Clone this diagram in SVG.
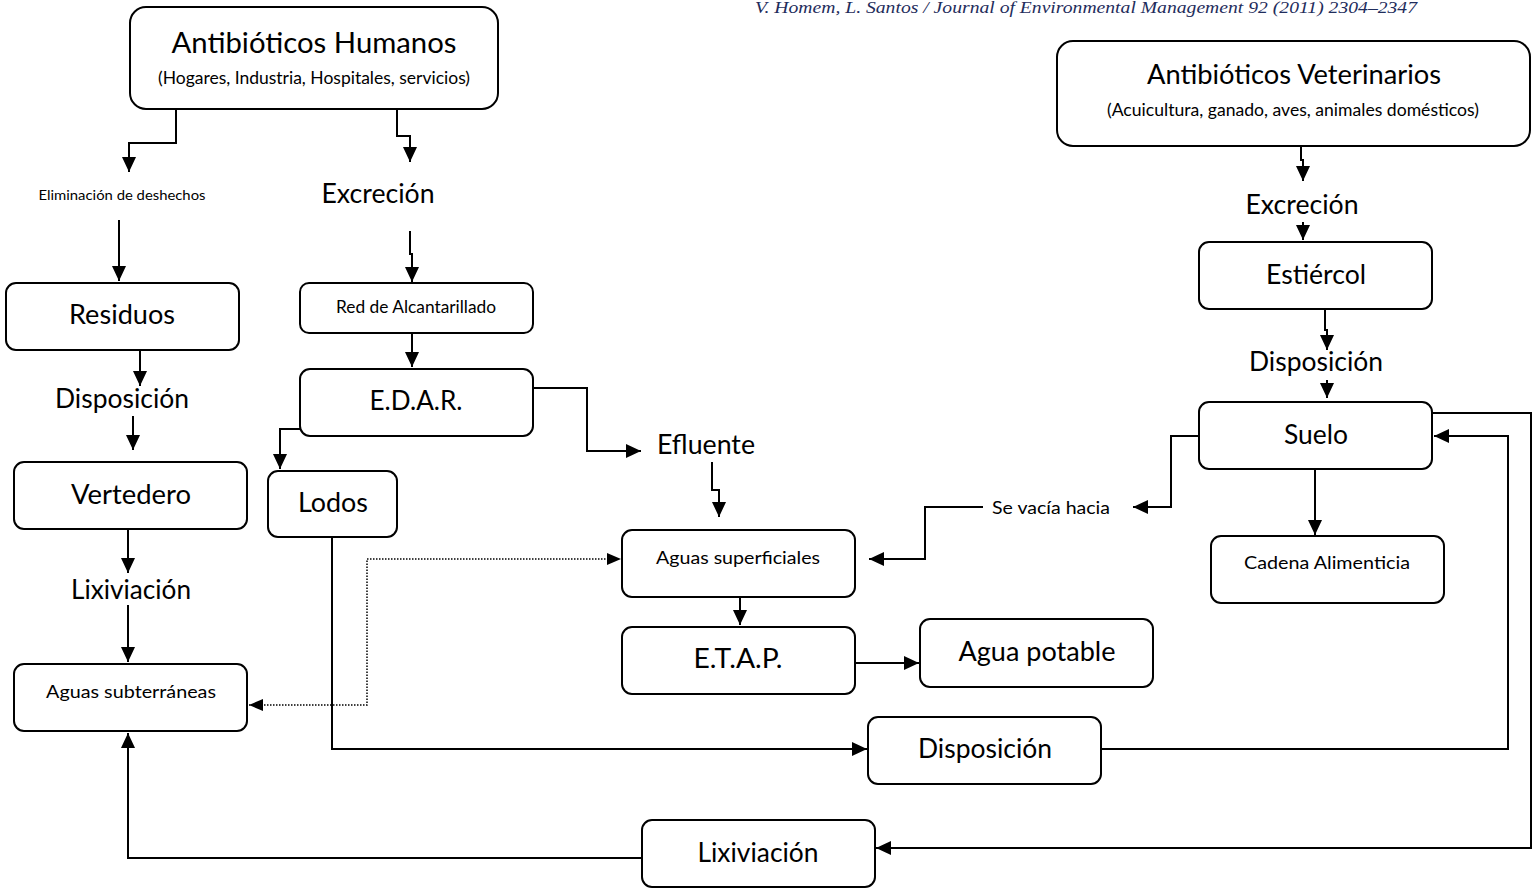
<svg xmlns="http://www.w3.org/2000/svg" width="1540" height="891" viewBox="0 0 1540 891">
<defs>
<marker id="ah" markerUnits="userSpaceOnUse" markerWidth="16" markerHeight="14" refX="15" refY="7" orient="auto">
<path d="M0,0 L15,7 L0,14 Z" fill="#000"/>
</marker>
<style>
.box{fill:#fff;stroke:#000;stroke-width:2}
.c{fill:none;stroke:#000;stroke-width:2;marker-end:url(#ah)}
.cn{fill:none;stroke:#000;stroke-width:2}
.d{fill:none;stroke:#000;stroke-width:1.5;stroke-dasharray:1.5 1.5}
text{font-family:Lato,"Open Sans","Liberation Sans",sans-serif;fill:#000;text-anchor:middle}
.L{font-size:27px}
.T{font-size:29px}
.S{font-size:17px}
.X{font-size:14px}
.cite{font-family:"Liberation Serif",serif;font-style:italic;font-size:17px;fill:#1f2d5c;text-anchor:start}
</style>
</defs>
<rect width="1540" height="891" fill="#fff"/>
<text class="cite" x="755" y="13" textLength="662" lengthAdjust="spacingAndGlyphs">V. Homem, L. Santos / Journal of Environmental Management 92 (2011) 2304–2347</text>

<g id="connectors">
<polyline class="c" points="176,109 176,143 129,143 129,172"/>
<polyline class="c" points="397,109 397,136 410,136 410,162"/>
<polyline class="c" points="119,220 119,281"/>
<polyline class="c" points="410,231 410,254 412,254 412,282"/>
<polyline class="c" points="140,350 140,386"/>
<polyline class="c" points="133,416 133,450"/>
<polyline class="c" points="128,529 128,573"/>
<polyline class="c" points="128,605 128,662"/>
<polyline class="c" points="412,333 412,367"/>
<polyline class="c" points="300,429 280,429 280,469"/>
<polyline class="c" points="533,388 587,388 587,451 641,451"/>
<polyline class="c" points="712,462 712,490 719,490 719,517"/>
<polyline class="d" points="249,705 367,705 367,559 608,559"/>
<path d="M249,705 L263,699 L263,711 Z" fill="#000"/>
<path d="M621,559 L607,553 L607,565 Z" fill="#000"/>
<polyline class="c" points="332,537 332,749 867,749"/>
<polyline class="c" points="740,597 740,625"/>
<polyline class="c" points="855,663 919,663"/>
<polyline class="c" points="1101,749 1508,749 1508,436 1434,436"/>
<polyline class="c" points="1433,413 1531,413 1531,848 876,848"/>
<polyline class="c" points="642,858 128,858 128,733"/>
<polyline class="c" points="1301,146 1301,160 1303,160 1303,181"/>
<polyline class="c" points="1303,222 1303,240"/>
<polyline class="c" points="1325,309 1325,330 1327,330 1327,350"/>
<polyline class="c" points="1327,380 1327,398"/>
<polyline class="c" points="1199,436 1171,436 1171,507 1133,507"/>
<polyline class="c" points="983,507 925,507 925,559 869,559"/>
<polyline class="c" points="1315,469 1315,535"/>
</g>

<g id="antibioticos-humanos">
<rect class="box" x="130" y="7" width="368" height="102" rx="16"/>
<text class="T" x="314" y="53" textLength="285" lengthAdjust="spacingAndGlyphs">Antibióticos Humanos</text>
<text class="S" x="314" y="84" textLength="312" lengthAdjust="spacingAndGlyphs">(Hogares, Industria, Hospitales, servicios)</text>
</g>
<g id="eliminacion"><text class="X" x="122" y="200" textLength="167" lengthAdjust="spacingAndGlyphs">Eliminación de deshechos</text></g>
<g id="excrecion-h"><text class="L" x="378" y="203" textLength="113" lengthAdjust="spacingAndGlyphs">Excreción</text></g>
<g id="residuos">
<rect class="box" x="6" y="283" width="233" height="67" rx="10"/>
<text class="L" x="122" y="324" textLength="106" lengthAdjust="spacingAndGlyphs">Residuos</text>
</g>
<g id="red">
<rect class="box" x="300" y="283" width="233" height="50" rx="9"/>
<text class="S" x="416" y="313" textLength="160" lengthAdjust="spacingAndGlyphs">Red de Alcantarillado</text>
</g>
<g id="disposicion-l"><text class="L" x="122" y="408" textLength="134" lengthAdjust="spacingAndGlyphs">Disposición</text></g>
<g id="edar">
<rect class="box" x="300" y="369" width="233" height="67" rx="10"/>
<text class="L" x="416" y="410" textLength="93" lengthAdjust="spacingAndGlyphs">E.D.A.R.</text>
</g>
<g id="vertedero">
<rect class="box" x="14" y="462" width="233" height="67" rx="10"/>
<text class="L" x="131" y="504" textLength="120" lengthAdjust="spacingAndGlyphs">Vertedero</text>
</g>
<g id="lodos">
<rect class="box" x="268" y="471" width="129" height="66" rx="10"/>
<text class="L" x="333" y="512" textLength="70" lengthAdjust="spacingAndGlyphs">Lodos</text>
</g>
<g id="efluente"><text class="L" x="706" y="454" textLength="98" lengthAdjust="spacingAndGlyphs">Efluente</text></g>
<g id="lixiviacion-l"><text class="L" x="131" y="599" textLength="120" lengthAdjust="spacingAndGlyphs">Lixiviación</text></g>
<g id="aguas-subterraneas">
<rect class="box" x="14" y="664" width="233" height="67" rx="10"/>
<text class="S" x="131" y="698" textLength="170" lengthAdjust="spacingAndGlyphs">Aguas subterráneas</text>
</g>
<g id="aguas-superficiales">
<rect class="box" x="622" y="530" width="233" height="67" rx="10"/>
<text class="S" x="738" y="564" textLength="164" lengthAdjust="spacingAndGlyphs">Aguas superficiales</text>
</g>
<g id="etap">
<rect class="box" x="622" y="627" width="233" height="67" rx="10"/>
<text class="L" x="738" y="668" textLength="89" lengthAdjust="spacingAndGlyphs">E.T.A.P.</text>
</g>
<g id="agua-potable">
<rect class="box" x="920" y="619" width="233" height="68" rx="10"/>
<text class="L" x="1037" y="661" textLength="157" lengthAdjust="spacingAndGlyphs">Agua potable</text>
</g>
<g id="disposicion-b">
<rect class="box" x="868" y="717" width="233" height="67" rx="10"/>
<text class="L" x="985" y="758" textLength="134" lengthAdjust="spacingAndGlyphs">Disposición</text>
</g>
<g id="lixiviacion-b">
<rect class="box" x="642" y="820" width="233" height="67" rx="10"/>
<text class="L" x="758" y="862" textLength="121" lengthAdjust="spacingAndGlyphs">Lixiviación</text>
</g>
<g id="antibioticos-veterinarios">
<rect class="box" x="1057" y="41" width="473" height="105" rx="16"/>
<text class="L" x="1294" y="84" textLength="294" lengthAdjust="spacingAndGlyphs">Antibióticos Veterinarios</text>
<text class="S" x="1293" y="116" textLength="372" lengthAdjust="spacingAndGlyphs">(Acuicultura, ganado, aves, animales domésticos)</text>
</g>
<g id="excrecion-v"><text class="L" x="1302" y="214" textLength="113" lengthAdjust="spacingAndGlyphs">Excreción</text></g>
<g id="estiercol">
<rect class="box" x="1199" y="242" width="233" height="67" rx="10"/>
<text class="L" x="1316" y="284" textLength="100" lengthAdjust="spacingAndGlyphs">Estiércol</text>
</g>
<g id="disposicion-r"><text class="L" x="1316" y="371" textLength="134" lengthAdjust="spacingAndGlyphs">Disposición</text></g>
<g id="suelo">
<rect class="box" x="1199" y="402" width="233" height="67" rx="10"/>
<text class="L" x="1316" y="444" textLength="64" lengthAdjust="spacingAndGlyphs">Suelo</text>
</g>
<g id="se-vacia"><text class="S" x="1051" y="514" textLength="118" lengthAdjust="spacingAndGlyphs">Se vacía hacia</text></g>
<g id="cadena">
<rect class="box" x="1211" y="536" width="233" height="67" rx="10"/>
<text class="S" x="1327" y="569" textLength="166" lengthAdjust="spacingAndGlyphs">Cadena Alimenticia</text>
</g>
</svg>
